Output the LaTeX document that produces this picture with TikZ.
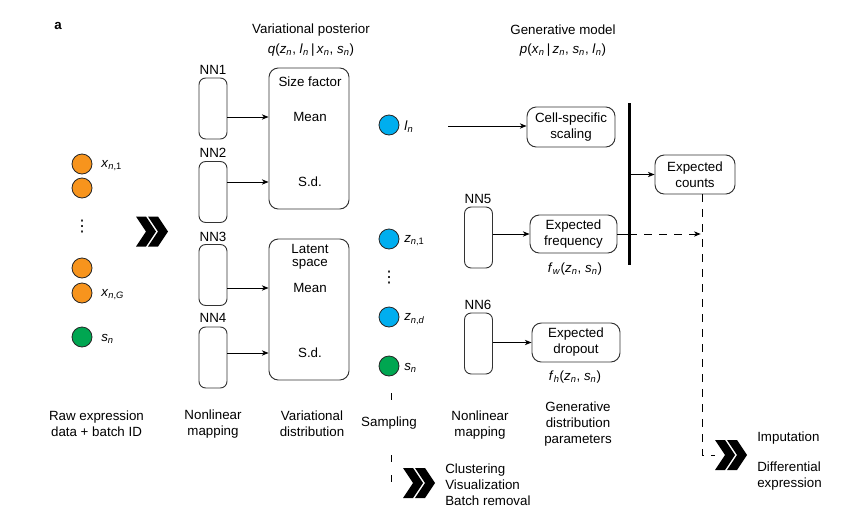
\documentclass[tikz,border=0pt]{standalone}
\usepackage{fontspec}
\setmainfont{Liberation Sans}
\newfontfamily\djv{DejaVu Sans}
\usetikzlibrary{arrows.meta}
\definecolor{corange}{RGB}{247,148,29}
\definecolor{cblue}{RGB}{0,174,239}
\definecolor{cgreen}{RGB}{0,166,81}
\newcommand\iv[2]{\textit{#1}\textsubscript{\textit{#2}}}
\begin{document}
\begin{tikzpicture}[x=0.75pt,y=-0.75pt,
  font=\fontsize{10pt}{12pt}\selectfont,
  every node/.style={inner sep=0pt},
  txt/.style={align=center},
  nnbox/.style={draw=black!80, line width=0.7pt, rounded corners=5pt, minimum width=21pt, minimum height=45.75pt},
  rbox/.style={draw=black!80, line width=0.7pt, rounded corners=7pt, align=center},
  dot/.style={circle, draw=black!85, line width=0.6pt, minimum size=15pt},
  arr/.style={-{Stealth[length=5pt,width=4pt,inset=1.5pt]}, line width=0.7pt},
  dline/.style={dash pattern=on 6pt off 5.25pt, line width=0.7pt},
  sline/.style={dash pattern=on 5pt off 10pt, line width=0.7pt},
  vdot/.style={font=\djv\fontsize{12pt}{13pt}\selectfont},
  chev/.pic={
    \fill (0,-15) -- (10,-15) -- (20,0) -- (10,15) -- (0,15) -- (10,0) -- cycle;
    \fill (12,-15) -- (22,-15) -- (32,0) -- (22,15) -- (12,15) -- (22,0) -- cycle;
  }]
\useasboundingbox (0,0) rectangle (849,518);

% panel letter
\node[font=\fontsize{10pt}{12pt}\selectfont\bfseries] (pa) at (58,26) {a};

% titles
\node (t1) at (311,30) {Variational posterior};
\node (t1m) at (311,50) {\textit{q}(\iv{z}{n}, \iv{l}{n}\,|\,\iv{x}{n}, \iv{s}{n})};
\node (t2) at (563,30) {Generative model};
\node (t2m) at (563,50) {\textit{p}(\iv{x}{n}\,|\,\iv{z}{n}, \iv{s}{n}, \iv{l}{n})};

% input circles
\node[dot, fill=corange] (x1) at (82,164) {};
\node[dot, fill=corange] (x2) at (82,188) {};
\node[vdot] (vd1) at (82,227) {⋮};
\node[dot, fill=corange] (x3) at (82,268) {};
\node[dot, fill=corange] (x4) at (82,293) {};
\node[dot, fill=cgreen] (s1c) at (82,337) {};
\node[anchor=west] (x1l) at (101,166) {\textit{x}\textsubscript{\textit{n},1}};
\node[anchor=west] (x4l) at (101,295) {\textit{x}\textsubscript{\textit{n},\textit{G}}};
\node[anchor=west] (s1l) at (101,339) {\iv{s}{n}};

% big chevron
\coordinate (ch1) at (136,231.5);
\pic at (ch1) {chev};

% NN boxes
\node[nnbox] (nn1) at (213,108.5) {};
\node[nnbox] (nn2) at (213,192) {};
\node[nnbox] (nn3) at (213,275) {};
\node[nnbox] (nn4) at (213,357.5) {};
\node (nn1l) at (213,70) {NN1};
\node (nn2l) at (213,153) {NN2};
\node (nn3l) at (213,237) {NN3};
\node (nn4l) at (213,318) {NN4};

% variational boxes
\node[rbox, minimum width=60pt, minimum height=105.75pt] (sf) at (309,138.5) {};
\node[rbox, minimum width=60pt, minimum height=105.75pt] (lb) at (309,309.5) {};
\node (sft) at (310,82) {Size factor};
\node (m1) at (310,117) {Mean};
\node (sd1) at (310,182) {S.d.};
\node[txt, font=\fontsize{10pt}{9.5pt}\selectfont] (lt) at (310,257) {Latent\\space};
\node (m2) at (310,288) {Mean};
\node (sd2) at (310,353) {S.d.};

\draw[arr] (nn1.east |- m1) -- (sf.west |- m1);
\draw[arr] (nn2.east |- sd1) -- (sf.west |- sd1);
\draw[arr] (nn3.east |- m2) -- (lb.west |- m2);
\draw[arr] (nn4.east |- sd2) -- (lb.west |- sd2);

% sampled circles
\node[dot, fill=cblue] (lc) at (389,125) {};
\node[dot, fill=cblue] (z1) at (389,239) {};
\node[vdot] (vd2) at (389,278) {⋮};
\node[dot, fill=cblue] (zd) at (389,317) {};
\node[dot, fill=cgreen] (s2c) at (389,366) {};
\node[anchor=west] (ll) at (404,127) {\iv{l}{n}};
\node[anchor=west] (z1l) at (404,241) {\textit{z}\textsubscript{\textit{n},1}};
\node[anchor=west] (zdl) at (404,319) {\textit{z}\textsubscript{\textit{n},\textit{d}}};
\node[anchor=west] (s2l) at (404,368) {\iv{s}{n}};

% generative part
\node[nnbox] (nn5) at (478.5,237.5) {};
\node[nnbox] (nn6) at (478.5,343.5) {};
\node (nn5l) at (478,199) {NN5};
\node (nn6l) at (478,305) {NN6};

\node[rbox, minimum width=66pt, minimum height=30pt] (cs) at (571,127) {Cell-specific\\scaling};
\node[rbox, minimum width=60pt, minimum height=29.25pt] (ec) at (695,174.5) {Expected\\counts};
\node[rbox, minimum width=65.25pt, minimum height=28.5pt] (ef) at (573.5,234) {Expected\\frequency};
\node[rbox, minimum width=66pt, minimum height=29.25pt] (ed) at (576,342.5) {Expected\\dropout};
\node (fw) at (575,269) {\iv{f}{w}(\iv{z}{n}, \iv{s}{n})};
\node (fh) at (575,377) {\iv{f}{h}(\iv{z}{n}, \iv{s}{n})};

\coordinate (lst) at (448,126);
\draw[arr] (lst) -- (cs.west |- lst);
\draw[arr] (nn5.east |- ef) -- (ef.west);
\draw[arr] (nn6.east |- ed) -- (ed.west);

\coordinate (bt) at (629,103);
\coordinate (bb) at (629,265);
\draw[line width=2.25pt] (bt) -- (bb);
\draw[arr] (bt |- ec.west) -- (ec.west);
\draw[line width=0.7pt] (ef.east) -- (bt |- ef.east);

\coordinate (vtop) at ([xshift=5.25pt]ec.south);
\coordinate (ch3) at (715,455);
\draw[arr, dline, shorten >=1pt] (bt |- ef.east) -- (vtop |- ef.east);
\draw[dline] (vtop) -- (vtop |- ch3) -- (ch3);
\pic at (ch3) {chev};

% sampling branch
\node (samp) at (389,423) {Sampling};
\coordinate (sa) at (391,393);
\coordinate (sb) at (391,403);
\coordinate (sc) at (391,455);
\coordinate (ch2) at (403,483);
\draw[sline] (sa) -- (sb);
\draw[sline] (sc) -- (sc |- ch2) -- (ch2);
\pic at (ch2) {chev};

\node[align=left, anchor=west] (clus) at (445,485) {Clustering\\Visualization\\Batch removal};
\node[anchor=west] (imp) at (757,438) {Imputation};
\node[align=left, anchor=west] (de) at (757,476.5) {Differential\\expression};

% bottom labels
\node[txt] (lab1) at (96.5,424) {Raw expression\\data + batch ID};
\node[txt] (lab2) at (213,424) {Nonlinear\\mapping};
\node[txt] (lab3) at (312,424) {Variational\\distribution};
\node[txt] (lab5) at (480,425) {Nonlinear\\mapping};
\node[txt] (lab6) at (578,424.5) {Generative\\distribution\\parameters};
\end{tikzpicture}
\end{document}
